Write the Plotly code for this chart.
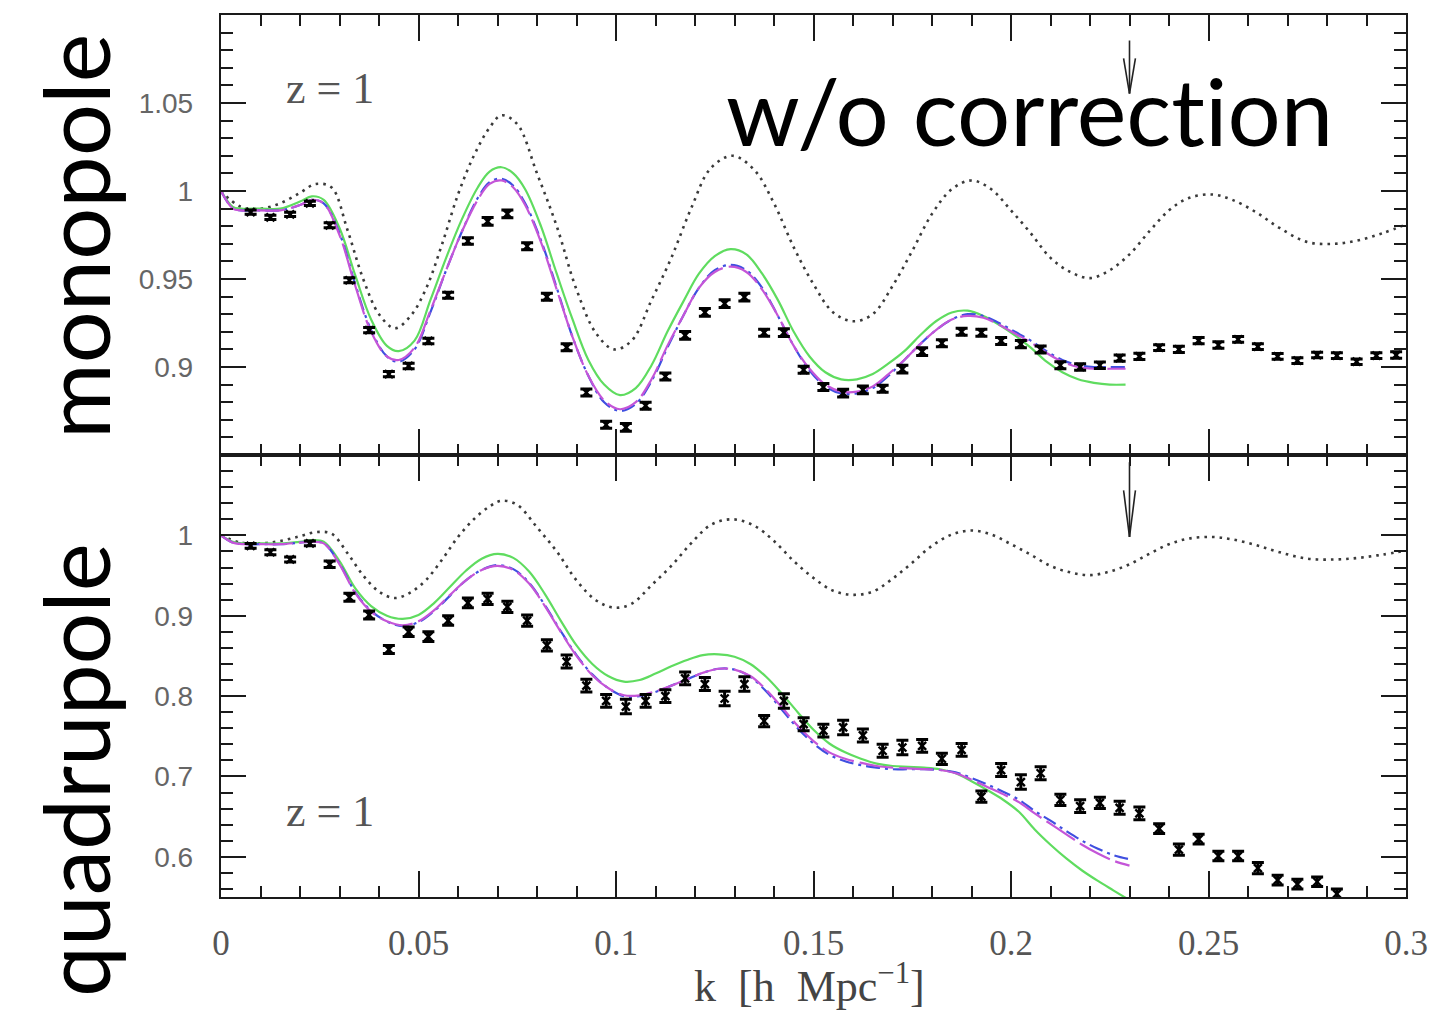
import plotly.graph_objects as go

# ---------------- data ----------------
# measured points (monopole ratio, top panel)
mono_k = [0.0075, 0.0125, 0.0175, 0.0225, 0.0275, 0.0325, 0.0375, 0.0425, 0.0475, 0.0525,
          0.0575, 0.0625, 0.0675, 0.0725, 0.0775, 0.0825, 0.0875, 0.0925, 0.0975, 0.1025,
          0.1075, 0.1125, 0.1175, 0.1225, 0.1275, 0.1325, 0.1375, 0.1425, 0.1475, 0.1525,
          0.1575, 0.1625, 0.1675, 0.1725, 0.1775, 0.1825, 0.1875, 0.1925, 0.1975, 0.2025,
          0.2075, 0.2125, 0.2175, 0.2225, 0.2275, 0.2325, 0.2375, 0.2425, 0.2475, 0.2525,
          0.2575, 0.2625, 0.2675, 0.2725, 0.2775, 0.2825, 0.2875, 0.2925, 0.2975]
mono_val = [0.988, 0.985, 0.9867, 0.993, 0.9805, 0.9493, 0.921, 0.896, 0.9006, 0.9148,
            0.9408, 0.9716, 0.9827, 0.987, 0.9686, 0.9399, 0.9112, 0.8855, 0.8672, 0.8657,
            0.878, 0.8946, 0.918, 0.931, 0.936, 0.9397, 0.9195, 0.9195, 0.8984, 0.8886,
            0.8852, 0.887, 0.8876, 0.8988, 0.9087, 0.9135, 0.920, 0.9195, 0.9148, 0.913,
            0.910, 0.901, 0.900, 0.901, 0.905, 0.906, 0.911, 0.910, 0.915, 0.9125,
            0.9157, 0.9116, 0.906, 0.9036, 0.9068, 0.9065, 0.903, 0.9065, 0.9068]
mono_err = [0.0012, 0.0012, 0.0012, 0.0012, 0.0014, 0.0014, 0.0015, 0.0015, 0.0016, 0.0016,
            0.0017, 0.0018, 0.0022, 0.0022, 0.0020, 0.0020, 0.0020, 0.0020, 0.0020, 0.0022,
            0.0020, 0.0020, 0.0022, 0.0022, 0.0022, 0.0022, 0.0020, 0.0022, 0.0020, 0.0020,
            0.0022, 0.0022, 0.0020, 0.0022, 0.0022, 0.0020, 0.0020, 0.0020, 0.0020, 0.0020,
            0.0020, 0.0020, 0.0018, 0.0018, 0.0018, 0.0018, 0.0016, 0.0018, 0.0018, 0.0018,
            0.0016, 0.0016, 0.0016, 0.0016, 0.0016, 0.0016, 0.0016, 0.0016, 0.0018]

# measured points (quadrupole ratio, bottom panel)
quad_k = [0.0075, 0.0125, 0.0175, 0.0225, 0.0275, 0.0325, 0.0375, 0.0425, 0.0475, 0.0525,
          0.0575, 0.0625, 0.0675, 0.0725, 0.0775, 0.0825, 0.0875, 0.0925, 0.0975, 0.1025,
          0.1075, 0.1125, 0.1175, 0.1225, 0.1275, 0.1325, 0.1375, 0.1425, 0.1475, 0.1525,
          0.1575, 0.1625, 0.1675, 0.1725, 0.1775, 0.1825, 0.1875, 0.1925, 0.1975, 0.2025,
          0.2075, 0.2125, 0.2175, 0.2225, 0.2275, 0.2325, 0.2375, 0.2425, 0.2475, 0.2525,
          0.2575, 0.2625, 0.2675, 0.2725, 0.2775, 0.2825]
quad_val = [0.987, 0.979, 0.970, 0.990, 0.964, 0.923, 0.901, 0.858, 0.880, 0.874,
            0.894, 0.916, 0.921, 0.911, 0.894, 0.863, 0.843, 0.813, 0.794, 0.787,
            0.794, 0.800, 0.822, 0.815, 0.797, 0.815, 0.769, 0.794, 0.765, 0.757,
            0.761, 0.751, 0.732, 0.736, 0.738, 0.722, 0.733, 0.675, 0.708, 0.693,
            0.704, 0.671, 0.663, 0.667, 0.661, 0.654, 0.635, 0.609, 0.622, 0.601,
            0.601, 0.586, 0.571, 0.566, 0.569, 0.554]
quad_err = [0.003, 0.003, 0.003, 0.003, 0.004, 0.005, 0.005, 0.005, 0.006, 0.006,
            0.006, 0.006, 0.007, 0.007, 0.007, 0.007, 0.008, 0.008, 0.008, 0.009,
            0.008, 0.008, 0.008, 0.008, 0.009, 0.009, 0.007, 0.009, 0.008, 0.008,
            0.009, 0.008, 0.008, 0.009, 0.008, 0.007, 0.008, 0.007, 0.008, 0.009,
            0.008, 0.007, 0.008, 0.007, 0.008, 0.008, 0.006, 0.007, 0.006, 0.006,
            0.006, 0.007, 0.006, 0.006, 0.006, 0.006]

# linear (dotted) reference ratio, same in both panels
lin_k = [0, 0.005, 0.010, 0.015, 0.020, 0.024, 0.028, 0.032, 0.036, 0.040, 0.044, 0.048,
         0.052, 0.056, 0.060, 0.064, 0.068, 0.071, 0.075, 0.080, 0.085, 0.090, 0.095, 0.0995,
         0.104, 0.109, 0.114, 0.119, 0.124, 0.1295, 0.135, 0.140, 0.145, 0.150, 0.155, 0.160,
         0.165, 0.170, 0.175, 0.180, 0.185, 0.190, 0.195, 0.200, 0.205, 0.210, 0.215, 0.220,
         0.225, 0.230, 0.235, 0.240, 0.245, 0.251, 0.256, 0.262, 0.268, 0.275, 0.282, 0.288,
         0.294, 0.300]
lin_val = [1.000, 0.991, 0.990, 0.993, 0.999, 1.004, 1.002, 0.978, 0.950, 0.930, 0.922, 0.929,
           0.945, 0.970, 0.998, 1.020, 1.036, 1.043, 1.038, 1.010, 0.980, 0.944, 0.919, 0.910,
           0.915, 0.938, 0.962, 0.990, 1.013, 1.020, 1.012, 0.993, 0.968, 0.947, 0.931, 0.926,
           0.930, 0.946, 0.966, 0.987, 1.001, 1.006, 1.001, 0.989, 0.976, 0.962, 0.954, 0.9505,
           0.955, 0.964, 0.977, 0.989, 0.996, 0.998, 0.995, 0.988, 0.979, 0.971, 0.970, 0.972,
           0.976, 0.981]

# model curves, monopole
mono_model_k = [0, 0.003, 0.005, 0.010, 0.015, 0.020, 0.023, 0.026, 0.030, 0.034, 0.038, 0.042,
                0.045, 0.049, 0.053, 0.057, 0.061, 0.065, 0.068, 0.071, 0.074, 0.077, 0.081,
                0.085, 0.089, 0.093, 0.097, 0.101, 0.105, 0.109, 0.113, 0.117, 0.121, 0.125,
                0.129, 0.133, 0.137, 0.141, 0.145, 0.149, 0.153, 0.157, 0.161, 0.165, 0.169,
                0.173, 0.177, 0.181, 0.185, 0.189, 0.193, 0.197, 0.201, 0.205, 0.209, 0.213,
                0.217, 0.221, 0.225, 0.229]
mono_green = [1.000, 0.991, 0.990, 0.990, 0.990, 0.994, 0.997, 0.995, 0.979, 0.952, 0.927, 0.912,
              0.909, 0.915, 0.938, 0.962, 0.984, 1.002, 1.011, 1.0135, 1.010, 1.001, 0.980,
              0.953, 0.927, 0.904, 0.890, 0.884, 0.888, 0.901, 0.920, 0.937, 0.953, 0.963,
              0.967, 0.964, 0.953, 0.938, 0.920, 0.906, 0.897, 0.893, 0.893, 0.896, 0.902,
              0.909, 0.918, 0.926, 0.931, 0.932, 0.929, 0.924, 0.918, 0.911, 0.903, 0.897,
              0.893, 0.891, 0.890, 0.890]
mono_magenta = [1.000, 0.990, 0.989, 0.989, 0.989, 0.992, 0.995, 0.993, 0.975, 0.946, 0.920, 0.906,
                0.904, 0.911, 0.932, 0.955, 0.977, 0.995, 1.004, 1.006, 1.002, 0.992, 0.971,
                0.944, 0.917, 0.895, 0.881, 0.876, 0.880, 0.893, 0.912, 0.929, 0.945, 0.954,
                0.957, 0.954, 0.944, 0.929, 0.912, 0.899, 0.890, 0.886, 0.886, 0.889, 0.896,
                0.904, 0.913, 0.921, 0.927, 0.929, 0.928, 0.924, 0.919, 0.914, 0.908, 0.903,
                0.900, 0.899, 0.899, 0.899]
mono_blue = [1.000, 0.990, 0.989, 0.989, 0.989, 0.992, 0.995, 0.993, 0.976, 0.947, 0.921, 0.906,
             0.903, 0.910, 0.931, 0.955, 0.977, 0.996, 1.005, 1.007, 1.003, 0.993, 0.972,
             0.945, 0.917, 0.895, 0.880, 0.875, 0.879, 0.892, 0.911, 0.929, 0.945, 0.955,
             0.958, 0.955, 0.945, 0.929, 0.912, 0.898, 0.889, 0.885, 0.885, 0.888, 0.895,
             0.904, 0.913, 0.921, 0.927, 0.930, 0.929, 0.925, 0.920, 0.915, 0.909, 0.904,
             0.901, 0.900, 0.900, 0.900]

# model curves, quadrupole
quad_model_k = [0, 0.003, 0.006, 0.010, 0.015, 0.020, 0.023, 0.026, 0.030, 0.034, 0.038, 0.042,
                0.046, 0.050, 0.054, 0.058, 0.062, 0.066, 0.070, 0.074, 0.078, 0.082, 0.086,
                0.090, 0.094, 0.098, 0.102, 0.106, 0.110, 0.114, 0.118, 0.122, 0.126, 0.130,
                0.134, 0.138, 0.142, 0.146, 0.150, 0.154, 0.158, 0.162, 0.166, 0.170, 0.174,
                0.178, 0.182, 0.186, 0.190, 0.194, 0.198, 0.202, 0.206, 0.210, 0.214, 0.218,
                0.222, 0.226, 0.230]
quad_green = [1.000, 0.992, 0.990, 0.990, 0.990, 0.992, 0.994, 0.992, 0.968, 0.934, 0.912, 0.900,
              0.896, 0.901, 0.916, 0.936, 0.956, 0.971, 0.977, 0.972, 0.955, 0.927, 0.894,
              0.863, 0.840, 0.825, 0.818, 0.820, 0.828, 0.837, 0.845, 0.851, 0.852, 0.849,
              0.840, 0.824, 0.803, 0.780, 0.758, 0.741, 0.730, 0.722, 0.716, 0.713, 0.712,
              0.711, 0.709, 0.704, 0.694, 0.683, 0.671, 0.656, 0.634, 0.615, 0.598, 0.583,
              0.570, 0.558, 0.546]
quad_magenta = [1.000, 0.991, 0.989, 0.989, 0.989, 0.991, 0.992, 0.990, 0.964, 0.928, 0.905, 0.893,
                0.888, 0.893, 0.907, 0.926, 0.944, 0.957, 0.962, 0.957, 0.940, 0.912, 0.880,
                0.850, 0.826, 0.810, 0.801, 0.801, 0.806, 0.813, 0.821, 0.829, 0.834, 0.833,
                0.825, 0.808, 0.786, 0.763, 0.744, 0.730, 0.722, 0.717, 0.713, 0.711, 0.710,
                0.709, 0.708, 0.704, 0.696, 0.687, 0.678, 0.668, 0.654, 0.641, 0.628, 0.615,
                0.604, 0.595, 0.589]
quad_blue = [1.000, 0.991, 0.989, 0.989, 0.989, 0.991, 0.992, 0.990, 0.965, 0.929, 0.906, 0.893,
             0.887, 0.892, 0.906, 0.925, 0.944, 0.957, 0.963, 0.958, 0.941, 0.913, 0.881,
             0.851, 0.827, 0.810, 0.800, 0.800, 0.805, 0.813, 0.821, 0.829, 0.834, 0.833,
             0.824, 0.806, 0.783, 0.760, 0.741, 0.727, 0.719, 0.714, 0.711, 0.709, 0.709,
             0.709, 0.708, 0.705, 0.698, 0.690, 0.681, 0.671, 0.657, 0.645, 0.632, 0.620,
             0.610, 0.602, 0.597]

# tick labels
x_tickvals = [0, 0.05, 0.1, 0.15, 0.2, 0.25, 0.3]
x_ticktext = ["0", "0.05", "0.1", "0.15", "0.2", "0.25", "0.3"]
mono_tickvals = [0.9, 0.95, 1.0, 1.05]
mono_ticktext = ["0.9", "0.95", "1", "1.05"]
quad_tickvals = [0.6, 0.7, 0.8, 0.9, 1.0]
quad_ticktext = ["0.6", "0.7", "0.8", "0.9", "1"]

# arrow marking k_max
arrow_k = 0.23
mono_arrow = dict(tail=1.0855, head=1.0753, tip=1.0554)
quad_arrow = dict(tail=1.091, head=1.056, tip=0.998)
arrow_halfwidth = 0.0015

# ---------------- styles ----------------
GREEN = "#5fdc5f"
MAGENTA = "#c455d8"
BLUE = "#3f4fe0"
DOT = "#3a3a3a"
SERIF = "Liberation Serif, DejaVu Serif, serif"
SANS = "Liberation Sans, Arial, sans-serif"
BIG = "Lato, Open Sans, sans-serif"

fig = go.Figure()


def add_panel(xa, ya, model_k, green, magenta, blue, pk, pv, pe):
    fig.add_trace(go.Scatter(x=lin_k, y=lin_val, mode="lines", xaxis=xa, yaxis=ya,
                             line=dict(color=DOT, width=2.6, dash="2.6px,5px", shape="spline"),
                             showlegend=False, hoverinfo="skip"))
    fig.add_trace(go.Scatter(x=model_k, y=green, mode="lines", xaxis=xa, yaxis=ya,
                             line=dict(color=GREEN, width=2.2, shape="spline"),
                             showlegend=False, hoverinfo="skip"))
    fig.add_trace(go.Scatter(x=model_k, y=blue, mode="lines", xaxis=xa, yaxis=ya,
                             line=dict(color=BLUE, width=2.2, dash="14px,5px,3px,5px", shape="spline"),
                             showlegend=False, hoverinfo="skip"))
    fig.add_trace(go.Scatter(x=model_k, y=magenta, mode="lines", xaxis=xa, yaxis=ya,
                             line=dict(color=MAGENTA, width=2.2, dash="34px,6px", shape="spline"),
                             showlegend=False, hoverinfo="skip"))
    fig.add_trace(go.Scatter(x=pk, y=pv, mode="markers", xaxis=xa, yaxis=ya,
                             marker=dict(symbol="x-thin", size=8, color="black",
                                         line=dict(width=2.4, color="black")),
                             error_y=dict(type="data", array=pe, width=6, thickness=3, color="black"),
                             showlegend=False, hoverinfo="skip"))


add_panel("x2", "y2", mono_model_k, mono_green, mono_magenta, mono_blue, mono_k, mono_val, mono_err)
add_panel("x", "y", quad_model_k, quad_green, quad_magenta, quad_blue, quad_k, quad_val, quad_err)

shapes = []
for xr, yr, a in (("x2", "y2", mono_arrow), ("x", "y", quad_arrow)):
    ln = dict(color="#222222", width=1.6)
    shapes.append(dict(type="line", xref=xr, yref=yr, x0=arrow_k, x1=arrow_k,
                       y0=a["tail"], y1=a["tip"], line=ln))
    shapes.append(dict(type="line", xref=xr, yref=yr, x0=arrow_k - arrow_halfwidth, x1=arrow_k,
                       y0=a["head"], y1=a["tip"], line=ln))
    shapes.append(dict(type="line", xref=xr, yref=yr, x0=arrow_k + arrow_halfwidth, x1=arrow_k,
                       y0=a["head"], y1=a["tip"], line=ln))

axis_common = dict(showline=True, linewidth=2.4, linecolor="#1a1a1a", mirror="allticks",
                   ticks="inside", tickwidth=1.8, tickcolor="#1a1a1a", showgrid=False,
                   zeroline=False)

xaxis_common = dict(axis_common, range=[0, 0.3], tickmode="array", tickvals=x_tickvals,
                    ticktext=x_ticktext, ticklen=26,
                    minor=dict(tickmode="linear", tick0=0, dtick=0.01, ticklen=11,
                               tickwidth=1.6, ticks="inside", tickcolor="#1a1a1a"))

split = 442 / 882

fig.update_layout(
    width=1456, height=1016, autosize=False,
    margin=dict(l=221, r=50, t=15, b=119, pad=0),
    paper_bgcolor="white", plot_bgcolor="white",
    xaxis=dict(xaxis_common, anchor="y", domain=[0, 1], showticklabels=True,
               tickfont=dict(family=SERIF, size=35, color="#555555"), ticklabelstandoff=14),
    xaxis2=dict(xaxis_common, anchor="y2", domain=[0, 1], matches="x", showticklabels=False),
    yaxis=dict(axis_common, anchor="x", domain=[0, split], range=[0.55, 1.1],
               tickmode="array", tickvals=quad_tickvals, ticktext=quad_ticktext, ticklen=25,
               tickfont=dict(family=SANS, size=28, color="#666666"), ticklabelstandoff=20,
               minor=dict(tickmode="linear", tick0=0, dtick=0.02, ticklen=12, tickwidth=1.6,
                          ticks="inside", tickcolor="#1a1a1a")),
    yaxis2=dict(axis_common, anchor="x2", domain=[split, 1], range=[0.85, 1.1],
                tickmode="array", tickvals=mono_tickvals, ticktext=mono_ticktext, ticklen=25,
                tickfont=dict(family=SANS, size=28, color="#666666"), ticklabelstandoff=20,
                minor=dict(tickmode="linear", tick0=0, dtick=0.01, ticklen=12, tickwidth=1.6,
                           ticks="inside", tickcolor="#1a1a1a")),
    shapes=shapes,
)

annotations = [
    dict(text="monopole", xref="paper", yref="paper", x=-0.1232, y=0.7483, textangle=-90,
         showarrow=False, font=dict(family=BIG, size=92, color="black"),
         xanchor="center", yanchor="middle"),
    dict(text="quadrupole", xref="paper", yref="paper", x=-0.1232, y=0.144, textangle=-90,
         showarrow=False, font=dict(family=BIG, size=91, color="black"),
         xanchor="center", yanchor="middle"),
    dict(text="w/o correct\u200cion", xref="paper", yref="paper", x=0.6827, y=0.8923,
         showarrow=False, font=dict(family=BIG, size=94, color="black"),
         xanchor="center", yanchor="middle"),
    dict(text="z = 1", xref="x2", yref="y2", x=0.0276, y=1.0582, showarrow=False,
         font=dict(family=SERIF, size=44, color="#555555"), xanchor="center", yanchor="middle"),
    dict(text="z = 1", xref="x", yref="y", x=0.0276, y=0.6558, showarrow=False,
         font=dict(family=SERIF, size=44, color="#555555"), xanchor="center", yanchor="middle"),
    dict(text="k  [h  Mpc<sup>\u22121</sup>]", xref="paper", yref="paper", x=0.497, y=-0.0985,
         showarrow=False, font=dict(family=SERIF, size=44, color="#444444"),
         xanchor="center", yanchor="middle"),
]
fig.update_layout(annotations=annotations)

fig.write_html("out.html")
